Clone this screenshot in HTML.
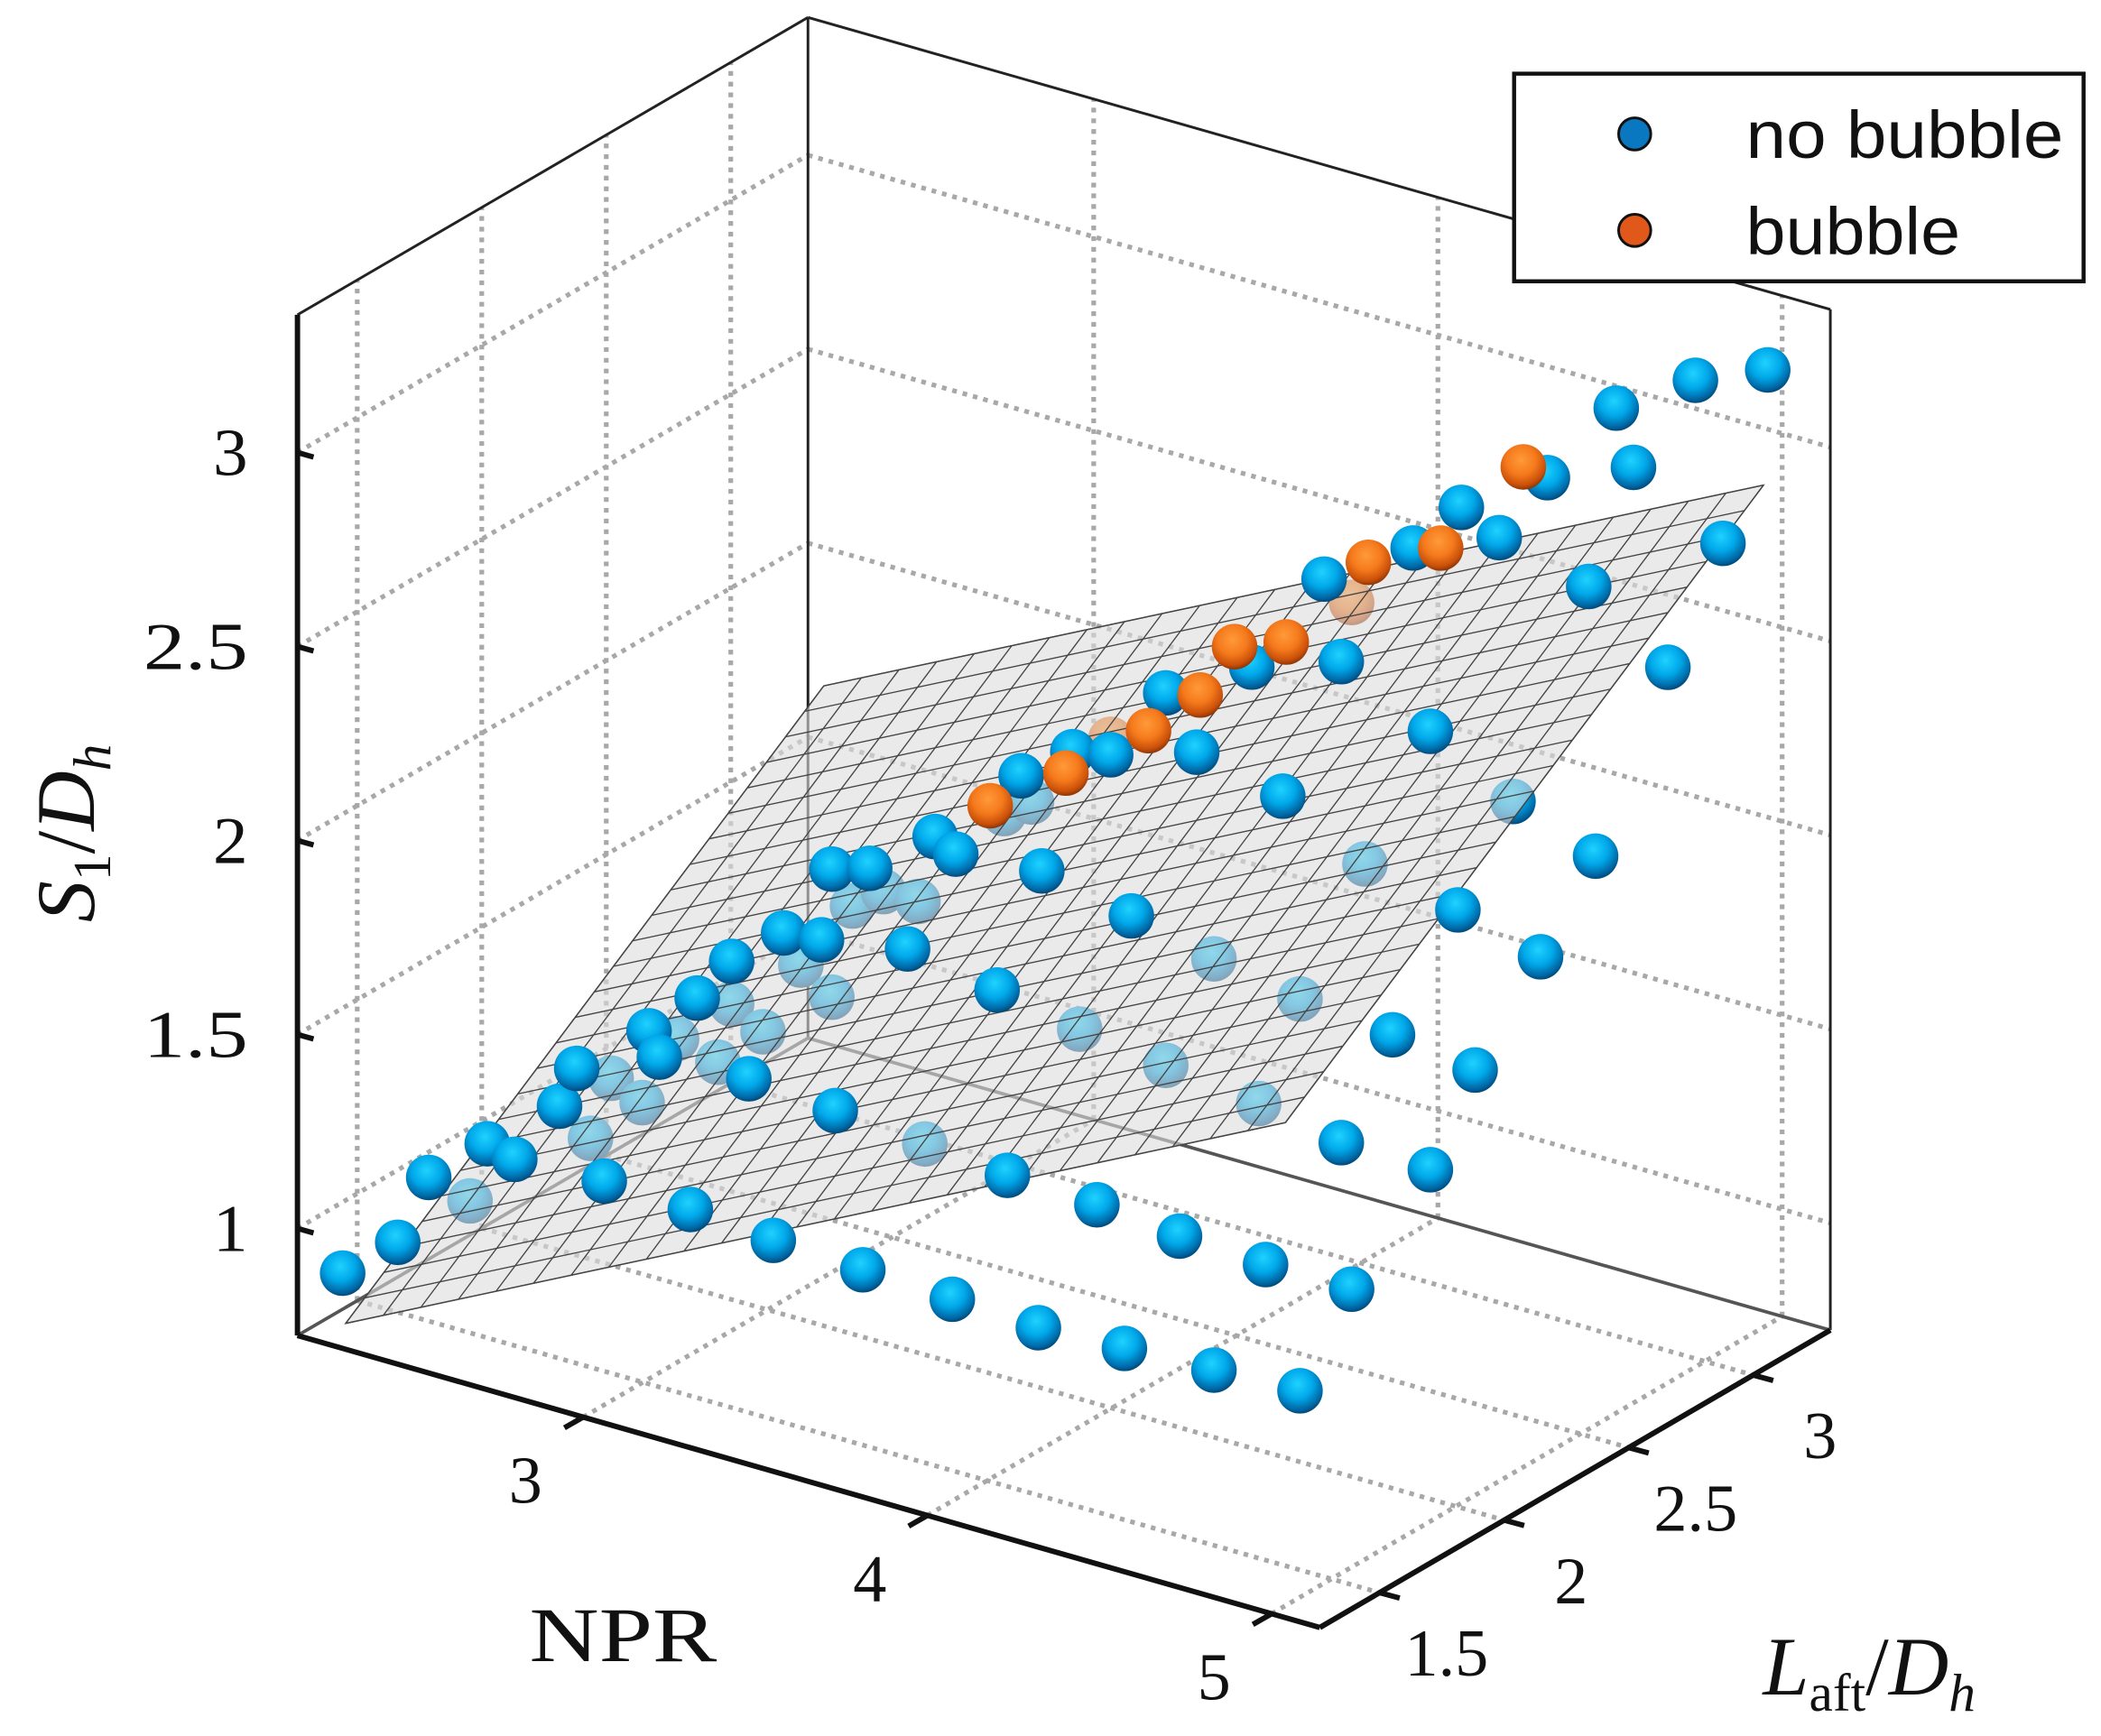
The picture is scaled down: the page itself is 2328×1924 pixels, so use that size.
<!DOCTYPE html>
<html><head><meta charset="utf-8"><style>
html,body{margin:0;padding:0;background:#fff;}
svg{display:block;}
text{font-family:"Liberation Serif",serif;fill:#111;}
</style></head><body>
<svg id="chart" width="2328" height="1924" viewBox="0 0 1568 1296" preserveAspectRatio="none" xmlns="http://www.w3.org/2000/svg">
<defs>
<radialGradient id="gb" cx="0.45" cy="0.35" r="0.65">
<stop offset="0" stop-color="#1fd2ff"/><stop offset="0.5" stop-color="#00a8ea"/><stop offset="0.85" stop-color="#006aa8"/><stop offset="1" stop-color="#004a7a"/>
</radialGradient>
<radialGradient id="go" cx="0.45" cy="0.35" r="0.65">
<stop offset="0" stop-color="#ff9a3a"/><stop offset="0.5" stop-color="#f57a1c"/><stop offset="0.85" stop-color="#c9500a"/><stop offset="1" stop-color="#8f3605"/>
</radialGradient>
</defs>
<g id="grid"></g>
<g id="box"></g>
<g id="below"></g>
<g id="plane"></g>
<g id="above"></g>
<g id="axes"></g>
<g>
<rect x="1130" y="55" width="425" height="155" fill="#fff" stroke="#111" stroke-width="3"/>
<circle cx="1220" cy="100" r="12" fill="#0a78c0" stroke="#111" stroke-width="2"/>
<text x="1303" y="118" font-size="50" textLength="237" lengthAdjust="spacingAndGlyphs" style="font-family:'Liberation Sans',sans-serif">no bubble</text>
<circle cx="1220" cy="172" r="12" fill="#e0591a" stroke="#111" stroke-width="2"/>
<text x="1303" y="190" font-size="50" textLength="160" lengthAdjust="spacingAndGlyphs" style="font-family:'Liberation Sans',sans-serif">bubble</text>
</g>
</svg>
<script>
// ---- data ----
const aboveNPR=[2.20,2.36,2.45,2.62,2.70,2.83,2.88,2.96,3.09,3.12,3.21,3.23,3.33,3.38,2.83,2.94,2.97,2.98,3.08,3.19,3.27,3.33,3.45,3.52,3.58,3.67,3.78,3.84,3.94,4.03,4.19,4.28,4.40,3.48,3.74,3.98,4.23,2.80,3.06,3.32,3.57,3.82,4.08,4.33,4.45,4.13,4.22,4.08,4.33,4.47,4.67,4.72,4.90,5.11,4.98,4.59,4.82,4.61,4.45,4.21,4.02,4.26,4.45,4.13,4.48];
const aboveL=[1.4,1.4,1.4,1.4,1.4,1.4,1.4,1.4,1.4,1.4,1.4,1.4,1.4,1.4,2.3,2.3,2.3,2.3,2.3,2.3,2.3,2.3,2.3,2.3,2.3,2.3,2.3,2.3,2.3,2.3,2.3,2.3,2.3,2.3,2.3,2.3,2.3,2.3,2.3,2.3,2.3,2.3,2.3,2.3,2.3,3.1,3.1,3.1,3.1,3.1,3.1,3.1,3.1,3.1,3.1,3.1,3.1,3.1,3.1,3.1,3.1,3.1,2.3,3.1,2.3];
const aboveS=[0.84,0.96,1.15,1.28,1.26,1.43,1.54,1.27,1.69,1.63,1.26,1.81,1.93,1.64,1.54,1.55,1.74,1.12,1.77,1.59,1.90,1.87,1.55,2.12,1.89,2.22,2.24,1.84,2.44,2.31,2.57,2.26,2.85,1.08,1.07,1.05,1.04,0.74,0.73,0.72,0.71,0.72,0.73,0.74,2.65,2.09,2.69,2.55,2.64,2.83,3.06,2.92,3.19,3.27,2.79,2.58,2.43,1.89,1.59,1.65,1.28,1.25,1.41,0.96,1.04];
const belowNPR=[2.57,2.92,2.98,3.07,3.17,3.29,3.33,2.77,2.88,2.97,3.03,3.12,3.22,3.24,3.47,3.55,3.69,3.94,4.08,4.21,4.33,3.94,4.37];
const belowL=[1.4,1.4,1.4,1.4,1.4,1.4,1.4,2.3,2.3,2.3,2.3,2.3,2.3,2.3,2.3,2.3,2.3,2.3,2.3,2.3,2.3,3.1,3.1];
const belowS=[1.12,1.37,1.54,1.50,1.69,1.66,1.82,1.27,1.47,1.41,1.66,1.72,1.72,1.10,2.01,2.06,1.51,1.48,1.79,1.45,1.75,1.70,1.97];
const bubNPR=[3.43,3.65,3.89,4.04,4.14,4.29,3.95,4.16,4.40];
const bubL=[2.3,2.3,2.3,2.3,2.3,2.3,3.1,3.1,3.1];
const bubS=[2.02,2.16,2.33,2.46,2.61,2.66,2.48,2.57,2.84];
const bubBelowNPR=[3.78,4.48];
const bubBelowL=[2.3,2.3];
const bubBelowS=[2.28,2.81];
const fitCoef=[-0.840,0.443,0.482];
const fitNPRRange=[2.31,5.04];
const fitLRange=[1.26,3.18];
const zTicks=[1,1.5,2,2.5,3];
const zTickLabels=["1","1.5","2","2.5","3"];
const nTicks=[3,4,5];
const nTickLabels=["3","4","5"];
const lTicks=[1.5,2,2.5,3];
const lTickLabels=["1.5","2","2.5","3"];
// ---- projection ----
const NMIN=2.17,NMAX=5.14,LMIN=1.26,LMAX=3.31,ZMIN=0.724,ZMAX=3.355;
function P(n,l,z){
  const fn=(n-NMIN)/(NMAX-NMIN),fl=(l-LMIN)/(LMAX-LMIN),fz=(z-ZMIN)/(ZMAX-ZMIN);
  return [222+fn*763+fl*381, 997+fn*218-fl*222-fz*762];
}
const NS="http://www.w3.org/2000/svg";
function mk(tag,attrs,parent){const e=document.createElementNS(NS,tag);for(const k in attrs)e.setAttribute(k,attrs[k]);parent.appendChild(e);return e;}
function line(a,b,attrs,parent){return mk('line',Object.assign({x1:a[0],y1:a[1],x2:b[0],y2:b[1]},attrs),parent);}
const grid=document.getElementById('grid');
const dot={stroke:'#a8a8a8','stroke-width':3.5,'stroke-dasharray':'3.5 4.5',fill:'none'};
zTicks.forEach(z=>{
  let e=line(P(NMIN,LMIN,z),P(NMIN,LMAX,z),dot,grid);
  
  e=line(P(NMIN,LMAX,z),P(NMAX,LMAX,z),dot,grid);
  
});
lTicks.forEach(l=>{
  let e=line(P(NMIN,l,ZMIN),P(NMIN,l,ZMAX),dot,grid);
  
  e=line(P(NMIN,l,ZMIN),P(NMAX,l,ZMIN),dot,grid);
  
});
nTicks.forEach(n=>{
  let e=line(P(n,LMAX,ZMIN),P(n,LMAX,ZMAX),dot,grid);
  
  e=line(P(n,LMIN,ZMIN),P(n,LMAX,ZMIN),dot,grid);
  
});
const box=document.getElementById('box');
const thin={stroke:'#222','stroke-width':2};
const seg=[[[NMIN,LMAX,ZMIN],[NMIN,LMAX,ZMAX]],[[NMIN,LMIN,ZMAX],[NMIN,LMAX,ZMAX]],[[NMIN,LMAX,ZMAX],[NMAX,LMAX,ZMAX]],[[NMAX,LMAX,ZMIN],[NMAX,LMAX,ZMAX]]];
seg.forEach(s=>{const e=line(P(...s[0]),P(...s[1]),thin,box);
  });
[[[NMIN,LMIN,ZMIN],[NMIN,LMAX,ZMIN]],[[NMIN,LMAX,ZMIN],[NMAX,LMAX,ZMIN]]].forEach(s=>{
  const e=line(P(...s[0]),P(...s[1]),{stroke:'#555','stroke-width':2.5},box);
  });
function sphere(n,l,s,grad,parent,name){
  const p=P(n,l,s);
  const c=mk('circle',{cx:p[0],cy:p[1],r:17,fill:'url(#'+grad+')'},parent);
  
  
}
const below=document.getElementById('below');
belowNPR.forEach((n,i)=>sphere(n,belowL[i],belowS[i],'gb',below,'point-no-bubble'));
bubBelowNPR.forEach((n,i)=>sphere(n,bubBelowL[i],bubBelowS[i],'go',below,'point-bubble'));
// plane
const plane=document.getElementById('plane');
function fz(n,l){return fitCoef[0]+fitCoef[1]*n+fitCoef[2]*l;}
const [n0,n1]=fitNPRRange,[l0,l1]=fitLRange;
const c=[[n0,l0],[n1,l0],[n1,l1],[n0,l1]].map(q=>P(q[0],q[1],fz(q[0],q[1])));
const poly=mk('polygon',{points:c.map(p=>p.join(',')).join(' '),fill:'#dcdcdc','fill-opacity':0.6,stroke:'#555','stroke-width':1},plane);


const NDIV=25;
for(let i=0;i<=NDIV;i++){
  const n=n0+(n1-n0)*i/NDIV, l=l0+(l1-l0)*i/NDIV;
  let e=line(P(n,l0,fz(n,l0)),P(n,l1,fz(n,l1)),{stroke:'#444','stroke-width':0.9},plane);
  
  e=line(P(n0,l,fz(n0,l)),P(n1,l,fz(n1,l)),{stroke:'#444','stroke-width':0.9},plane);
  
}
const above=document.getElementById('above');
aboveNPR.forEach((n,i)=>sphere(n,aboveL[i],aboveS[i],'gb',above,'point-no-bubble'));
bubNPR.forEach((n,i)=>sphere(n,bubL[i],bubS[i],'go',above,'point-bubble'));
// axes
const axes=document.getElementById('axes');
const thick={stroke:'#111','stroke-width':4};
let e=line(P(NMIN,LMIN,ZMIN),P(NMIN,LMIN,ZMAX),thick,axes);

e=line(P(NMIN,LMIN,ZMIN),P(NMAX,LMIN,ZMIN),thick,axes);

e=line(P(NMAX,LMIN,ZMIN),P(NMAX,LMAX,ZMIN),thick,axes);

function lw(s){return s.length>1?78:26;}
zTicks.forEach((z,i)=>{
  const p=P(NMIN,LMIN,z);
  let t=line(p,[p[0]+12,p[1]+3.4],thick,axes);
  
  const tx=mk('text',{x:p[0]-37,y:p[1]+17,'font-size':50,'text-anchor':'end',textLength:lw(zTickLabels[i]),lengthAdjust:'spacingAndGlyphs'},axes);
  tx.textContent=zTickLabels[i];
  
});
nTicks.forEach((n,i)=>{
  const p=P(n,LMIN,ZMIN);
  let t=line(p,[p[0]-14,p[1]+8],thick,axes);
  
  const tx=mk('text',{x:p[0]-43,y:p[1]+64,'font-size':50,'text-anchor':'middle'},axes);
  tx.textContent=nTickLabels[i];
  
});
lTicks.forEach((l,i)=>{
  const p=P(NMAX,l,ZMIN);
  let t=line(p,[p[0]+15,p[1]+4],thick,axes);
  
  const tx=mk('text',{x:p[0]+50,y:p[1]+62,'font-size':50,'text-anchor':'middle'},axes);
  tx.textContent=lTickLabels[i];
  
});
</script>
<svg style="position:absolute;left:0;top:0" width="2328" height="1924" viewBox="0 0 1568 1296" preserveAspectRatio="none">
<text transform="translate(70,622) rotate(-90)" font-size="62" text-anchor="middle" style="font-family:'Liberation Serif',serif"><tspan font-style="italic">S</tspan><tspan font-size="40" dy="12">1</tspan><tspan dy="-12">/</tspan><tspan font-style="italic">D</tspan><tspan font-size="40" font-style="italic" dy="12">h</tspan></text>
<text x="465" y="1240" font-size="58" text-anchor="middle" textLength="140" lengthAdjust="spacingAndGlyphs" style="font-family:'Liberation Serif',serif">NPR</text>
<text x="1395" y="1265" font-size="62" text-anchor="middle" style="font-family:'Liberation Serif',serif"><tspan font-style="italic">L</tspan><tspan font-size="40" dy="12">aft</tspan><tspan dy="-12">/</tspan><tspan font-style="italic">D</tspan><tspan font-size="40" font-style="italic" dy="12">h</tspan></text>
</svg>
</body></html>
